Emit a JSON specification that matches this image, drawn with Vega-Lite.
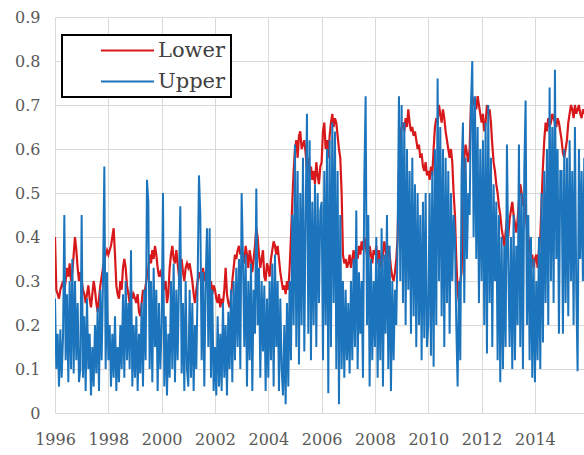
{
  "$schema": "https://vega.github.io/schema/vega-lite/v6.json",
  "width": 529,
  "height": 396,
  "autosize": "none",
  "padding": {"left": 55, "top": 17, "right": 0, "bottom": 42},
  "background": "white",
  "config": {
    "view": {"stroke": null},
    "font": "DejaVu Serif",
    "legend": {"strokeWidth": 2}
  },
  "data": {"values": [
{"t":1996.00,"l":0.40,"u":0.26},{"t":1996.05,"l":0.28,"u":0.10},{"t":1996.10,"l":0.27,"u":0.18},{"t":1996.15,"l":0.26,"u":0.06},{"t":1996.20,"l":0.28,"u":0.19},
{"t":1996.25,"l":0.29,"u":0.08},{"t":1996.30,"l":0.30,"u":0.17},{"t":1996.35,"l":0.28,"u":0.45},{"t":1996.40,"l":0.30,"u":0.12},{"t":1996.45,"l":0.33,"u":0.27},
{"t":1996.50,"l":0.31,"u":0.07},{"t":1996.55,"l":0.34,"u":0.30},{"t":1996.60,"l":0.30,"u":0.10},{"t":1996.65,"l":0.32,"u":0.35},{"t":1996.70,"l":0.36,"u":0.09},
{"t":1996.75,"l":0.40,"u":0.30},{"t":1996.80,"l":0.37,"u":0.12},{"t":1996.85,"l":0.33,"u":0.25},{"t":1996.90,"l":0.30,"u":0.07},{"t":1996.95,"l":0.32,"u":0.10},
{"t":1997.00,"l":0.30,"u":0.45},{"t":1997.05,"l":0.28,"u":0.08},{"t":1997.10,"l":0.27,"u":0.22},{"t":1997.15,"l":0.25,"u":0.05},{"t":1997.20,"l":0.27,"u":0.26},
{"t":1997.25,"l":0.29,"u":0.10},{"t":1997.30,"l":0.26,"u":0.18},{"t":1997.35,"l":0.24,"u":0.04},{"t":1997.40,"l":0.27,"u":0.15},{"t":1997.45,"l":0.30,"u":0.06},
{"t":1997.50,"l":0.28,"u":0.20},{"t":1997.55,"l":0.25,"u":0.09},{"t":1997.60,"l":0.23,"u":0.24},{"t":1997.65,"l":0.26,"u":0.05},{"t":1997.70,"l":0.29,"u":0.28},
{"t":1997.75,"l":0.31,"u":0.12},{"t":1997.80,"l":0.33,"u":0.30},{"t":1997.85,"l":0.35,"u":0.56},{"t":1997.90,"l":0.36,"u":0.10},{"t":1997.95,"l":0.37,"u":0.32},
{"t":1998.00,"l":0.36,"u":0.12},{"t":1998.05,"l":0.37,"u":0.20},{"t":1998.10,"l":0.38,"u":0.06},{"t":1998.15,"l":0.40,"u":0.18},{"t":1998.20,"l":0.42,"u":0.08},
{"t":1998.25,"l":0.36,"u":0.22},{"t":1998.30,"l":0.29,"u":0.05},{"t":1998.35,"l":0.27,"u":0.15},{"t":1998.40,"l":0.26,"u":0.07},{"t":1998.45,"l":0.30,"u":0.20},
{"t":1998.50,"l":0.28,"u":0.10},{"t":1998.55,"l":0.33,"u":0.27},{"t":1998.60,"l":0.35,"u":0.08},{"t":1998.65,"l":0.33,"u":0.30},{"t":1998.70,"l":0.29,"u":0.12},
{"t":1998.75,"l":0.27,"u":0.25},{"t":1998.80,"l":0.25,"u":0.10},{"t":1998.85,"l":0.28,"u":0.37},{"t":1998.90,"l":0.26,"u":0.06},{"t":1998.95,"l":0.27,"u":0.20},
{"t":1999.00,"l":0.26,"u":0.08},{"t":1999.05,"l":0.25,"u":0.22},{"t":1999.10,"l":0.27,"u":0.05},{"t":1999.15,"l":0.23,"u":0.18},{"t":1999.20,"l":0.22,"u":0.09},
{"t":1999.25,"l":0.25,"u":0.25},{"t":1999.30,"l":0.28,"u":0.06},{"t":1999.35,"l":0.27,"u":0.28},{"t":1999.40,"l":0.29,"u":0.12},{"t":1999.45,"l":0.31,"u":0.53},
{"t":1999.50,"l":0.33,"u":0.48},{"t":1999.55,"l":0.36,"u":0.10},{"t":1999.60,"l":0.34,"u":0.30},{"t":1999.65,"l":0.37,"u":0.07},{"t":1999.70,"l":0.35,"u":0.33},
{"t":1999.75,"l":0.38,"u":0.15},{"t":1999.80,"l":0.36,"u":0.28},{"t":1999.85,"l":0.33,"u":0.05},{"t":1999.90,"l":0.31,"u":0.25},{"t":1999.95,"l":0.32,"u":0.10},
{"t":2000.00,"l":0.31,"u":0.20},{"t":2000.05,"l":0.30,"u":0.50},{"t":2000.10,"l":0.28,"u":0.06},{"t":2000.15,"l":0.30,"u":0.22},{"t":2000.20,"l":0.25,"u":0.04},
{"t":2000.25,"l":0.27,"u":0.18},{"t":2000.30,"l":0.33,"u":0.08},{"t":2000.35,"l":0.36,"u":0.30},{"t":2000.40,"l":0.38,"u":0.10},{"t":2000.45,"l":0.35,"u":0.34},
{"t":2000.50,"l":0.34,"u":0.07},{"t":2000.55,"l":0.37,"u":0.28},{"t":2000.60,"l":0.34,"u":0.12},{"t":2000.65,"l":0.31,"u":0.30},{"t":2000.70,"l":0.33,"u":0.47},
{"t":2000.75,"l":0.35,"u":0.09},{"t":2000.80,"l":0.32,"u":0.25},{"t":2000.85,"l":0.30,"u":0.05},{"t":2000.90,"l":0.33,"u":0.30},{"t":2000.95,"l":0.34,"u":0.10},
{"t":2001.00,"l":0.33,"u":0.06},{"t":2001.05,"l":0.34,"u":0.28},{"t":2001.10,"l":0.32,"u":0.08},{"t":2001.15,"l":0.30,"u":0.25},{"t":2001.20,"l":0.27,"u":0.05},
{"t":2001.25,"l":0.25,"u":0.20},{"t":2001.30,"l":0.28,"u":0.10},{"t":2001.35,"l":0.30,"u":0.30},{"t":2001.40,"l":0.32,"u":0.54},{"t":2001.45,"l":0.31,"u":0.45},
{"t":2001.50,"l":0.29,"u":0.12},{"t":2001.55,"l":0.33,"u":0.32},{"t":2001.60,"l":0.30,"u":0.06},{"t":2001.65,"l":0.32,"u":0.30},{"t":2001.70,"l":0.29,"u":0.42},
{"t":2001.75,"l":0.31,"u":0.15},{"t":2001.80,"l":0.28,"u":0.42},{"t":2001.85,"l":0.30,"u":0.08},{"t":2001.90,"l":0.27,"u":0.28},{"t":2001.95,"l":0.29,"u":0.05},
{"t":2002.00,"l":0.28,"u":0.15},{"t":2002.05,"l":0.26,"u":0.04},{"t":2002.10,"l":0.25,"u":0.22},{"t":2002.15,"l":0.27,"u":0.06},{"t":2002.20,"l":0.24,"u":0.18},
{"t":2002.25,"l":0.26,"u":0.05},{"t":2002.30,"l":0.25,"u":0.25},{"t":2002.35,"l":0.28,"u":0.08},{"t":2002.40,"l":0.33,"u":0.20},{"t":2002.45,"l":0.27,"u":0.04},
{"t":2002.50,"l":0.25,"u":0.23},{"t":2002.55,"l":0.24,"u":0.10},{"t":2002.60,"l":0.26,"u":0.28},{"t":2002.65,"l":0.30,"u":0.07},{"t":2002.70,"l":0.33,"u":0.30},
{"t":2002.75,"l":0.36,"u":0.12},{"t":2002.80,"l":0.35,"u":0.33},{"t":2002.85,"l":0.37,"u":0.15},{"t":2002.90,"l":0.38,"u":0.35},{"t":2002.95,"l":0.36,"u":0.10},
{"t":2003.00,"l":0.37,"u":0.50},{"t":2003.05,"l":0.36,"u":0.35},{"t":2003.10,"l":0.34,"u":0.15},{"t":2003.15,"l":0.38,"u":0.36},{"t":2003.20,"l":0.36,"u":0.06},
{"t":2003.25,"l":0.33,"u":0.30},{"t":2003.30,"l":0.37,"u":0.12},{"t":2003.35,"l":0.35,"u":0.34},{"t":2003.40,"l":0.32,"u":0.05},{"t":2003.45,"l":0.35,"u":0.28},
{"t":2003.50,"l":0.38,"u":0.18},{"t":2003.55,"l":0.42,"u":0.51},{"t":2003.60,"l":0.40,"u":0.20},{"t":2003.65,"l":0.36,"u":0.33},{"t":2003.70,"l":0.33,"u":0.08},
{"t":2003.75,"l":0.35,"u":0.30},{"t":2003.80,"l":0.37,"u":0.14},{"t":2003.85,"l":0.31,"u":0.29},{"t":2003.90,"l":0.30,"u":0.05},{"t":2003.95,"l":0.34,"u":0.26},
{"t":2004.00,"l":0.33,"u":0.08},{"t":2004.05,"l":0.31,"u":0.30},{"t":2004.10,"l":0.35,"u":0.12},{"t":2004.15,"l":0.37,"u":0.34},{"t":2004.20,"l":0.39,"u":0.06},
{"t":2004.25,"l":0.38,"u":0.36},{"t":2004.30,"l":0.36,"u":0.15},{"t":2004.35,"l":0.38,"u":0.30},{"t":2004.40,"l":0.35,"u":0.05},{"t":2004.45,"l":0.32,"u":0.26},
{"t":2004.50,"l":0.30,"u":0.10},{"t":2004.55,"l":0.28,"u":0.04},{"t":2004.60,"l":0.29,"u":0.20},{"t":2004.65,"l":0.27,"u":0.02},{"t":2004.70,"l":0.30,"u":0.25},
{"t":2004.75,"l":0.28,"u":0.06},{"t":2004.80,"l":0.33,"u":0.30},{"t":2004.85,"l":0.40,"u":0.12},{"t":2004.90,"l":0.48,"u":0.45},{"t":2004.95,"l":0.55,"u":0.20},
{"t":2005.00,"l":0.60,"u":0.61},{"t":2005.05,"l":0.62,"u":0.15},{"t":2005.10,"l":0.58,"u":0.55},{"t":2005.15,"l":0.63,"u":0.11},{"t":2005.20,"l":0.64,"u":0.50},
{"t":2005.25,"l":0.60,"u":0.20},{"t":2005.30,"l":0.61,"u":0.58},{"t":2005.35,"l":0.62,"u":0.14},{"t":2005.40,"l":0.59,"u":0.45},{"t":2005.45,"l":0.55,"u":0.68},
{"t":2005.50,"l":0.58,"u":0.18},{"t":2005.55,"l":0.54,"u":0.62},{"t":2005.60,"l":0.56,"u":0.12},{"t":2005.65,"l":0.53,"u":0.48},{"t":2005.70,"l":0.55,"u":0.20},
{"t":2005.75,"l":0.52,"u":0.52},{"t":2005.80,"l":0.57,"u":0.15},{"t":2005.85,"l":0.54,"u":0.50},{"t":2005.90,"l":0.52,"u":0.25},{"t":2005.95,"l":0.56,"u":0.46},
{"t":2006.00,"l":0.57,"u":0.48},{"t":2006.05,"l":0.64,"u":0.12},{"t":2006.10,"l":0.66,"u":0.55},{"t":2006.15,"l":0.60,"u":0.20},{"t":2006.20,"l":0.62,"u":0.60},
{"t":2006.25,"l":0.58,"u":0.045},{"t":2006.30,"l":0.63,"u":0.62},{"t":2006.35,"l":0.66,"u":0.15},{"t":2006.40,"l":0.68,"u":0.66},{"t":2006.45,"l":0.65,"u":0.25},
{"t":2006.50,"l":0.67,"u":0.64},{"t":2006.55,"l":0.66,"u":0.10},{"t":2006.60,"l":0.63,"u":0.55},{"t":2006.65,"l":0.60,"u":0.02},{"t":2006.70,"l":0.58,"u":0.45},
{"t":2006.75,"l":0.50,"u":0.10},{"t":2006.80,"l":0.36,"u":0.30},{"t":2006.85,"l":0.34,"u":0.08},{"t":2006.90,"l":0.35,"u":0.28},{"t":2006.95,"l":0.33,"u":0.12},
{"t":2007.00,"l":0.34,"u":0.25},{"t":2007.05,"l":0.36,"u":0.09},{"t":2007.10,"l":0.33,"u":0.30},{"t":2007.15,"l":0.35,"u":0.12},{"t":2007.20,"l":0.37,"u":0.35},
{"t":2007.25,"l":0.34,"u":0.15},{"t":2007.30,"l":0.36,"u":0.46},{"t":2007.35,"l":0.35,"u":0.10},{"t":2007.40,"l":0.38,"u":0.32},{"t":2007.45,"l":0.36,"u":0.18},
{"t":2007.50,"l":0.39,"u":0.30},{"t":2007.55,"l":0.37,"u":0.08},{"t":2007.60,"l":0.40,"u":0.53},{"t":2007.65,"l":0.38,"u":0.72},{"t":2007.70,"l":0.36,"u":0.20},
{"t":2007.75,"l":0.35,"u":0.45},{"t":2007.80,"l":0.38,"u":0.06},{"t":2007.85,"l":0.36,"u":0.35},{"t":2007.90,"l":0.34,"u":0.12},{"t":2007.95,"l":0.37,"u":0.30},
{"t":2008.00,"l":0.36,"u":0.15},{"t":2008.05,"l":0.38,"u":0.40},{"t":2008.10,"l":0.34,"u":0.08},{"t":2008.15,"l":0.37,"u":0.35},{"t":2008.20,"l":0.35,"u":0.12},
{"t":2008.25,"l":0.33,"u":0.42},{"t":2008.30,"l":0.36,"u":0.06},{"t":2008.35,"l":0.39,"u":0.36},{"t":2008.40,"l":0.37,"u":0.18},{"t":2008.45,"l":0.34,"u":0.45},
{"t":2008.50,"l":0.38,"u":0.10},{"t":2008.55,"l":0.36,"u":0.38},{"t":2008.60,"l":0.33,"u":0.05},{"t":2008.65,"l":0.31,"u":0.30},{"t":2008.70,"l":0.30,"u":0.12},
{"t":2008.75,"l":0.32,"u":0.28},{"t":2008.80,"l":0.35,"u":0.20},{"t":2008.85,"l":0.40,"u":0.40},{"t":2008.90,"l":0.55,"u":0.72},{"t":2008.95,"l":0.64,"u":0.30},
{"t":2009.00,"l":0.65,"u":0.70},{"t":2009.05,"l":0.66,"u":0.25},{"t":2009.10,"l":0.64,"u":0.66},{"t":2009.15,"l":0.67,"u":0.20},{"t":2009.20,"l":0.65,"u":0.60},
{"t":2009.25,"l":0.69,"u":0.28},{"t":2009.30,"l":0.66,"u":0.55},{"t":2009.35,"l":0.64,"u":0.18},{"t":2009.40,"l":0.65,"u":0.58},{"t":2009.45,"l":0.63,"u":0.22},
{"t":2009.50,"l":0.64,"u":0.52},{"t":2009.55,"l":0.62,"u":0.15},{"t":2009.60,"l":0.60,"u":0.50},{"t":2009.65,"l":0.61,"u":0.20},{"t":2009.70,"l":0.58,"u":0.45},
{"t":2009.75,"l":0.59,"u":0.12},{"t":2009.80,"l":0.56,"u":0.48},{"t":2009.85,"l":0.55,"u":0.17},{"t":2009.90,"l":0.57,"u":0.50},{"t":2009.95,"l":0.54,"u":0.15},
{"t":2010.00,"l":0.55,"u":0.20},{"t":2010.05,"l":0.53,"u":0.50},{"t":2010.10,"l":0.56,"u":0.13},{"t":2010.15,"l":0.54,"u":0.55},{"t":2010.20,"l":0.60,"u":0.105},
{"t":2010.25,"l":0.65,"u":0.60},{"t":2010.30,"l":0.67,"u":0.20},{"t":2010.35,"l":0.66,"u":0.76},{"t":2010.40,"l":0.70,"u":0.30},{"t":2010.45,"l":0.68,"u":0.65},
{"t":2010.50,"l":0.66,"u":0.22},{"t":2010.55,"l":0.69,"u":0.60},{"t":2010.60,"l":0.67,"u":0.15},{"t":2010.65,"l":0.64,"u":0.58},{"t":2010.70,"l":0.62,"u":0.25},
{"t":2010.75,"l":0.60,"u":0.55},{"t":2010.80,"l":0.58,"u":0.18},{"t":2010.85,"l":0.60,"u":0.50},{"t":2010.90,"l":0.57,"u":0.30},{"t":2010.95,"l":0.50,"u":0.45},
{"t":2011.00,"l":0.45,"u":0.40},{"t":2011.05,"l":0.35,"u":0.20},{"t":2011.10,"l":0.28,"u":0.06},{"t":2011.15,"l":0.25,"u":0.30},{"t":2011.20,"l":0.30,"u":0.12},
{"t":2011.25,"l":0.32,"u":0.55},{"t":2011.30,"l":0.45,"u":0.66},{"t":2011.35,"l":0.58,"u":0.25},{"t":2011.40,"l":0.61,"u":0.58},{"t":2011.45,"l":0.59,"u":0.35},
{"t":2011.50,"l":0.57,"u":0.50},{"t":2011.55,"l":0.60,"u":0.45},{"t":2011.60,"l":0.70,"u":0.70},{"t":2011.65,"l":0.72,"u":0.80},{"t":2011.70,"l":0.70,"u":0.40},
{"t":2011.75,"l":0.71,"u":0.72},{"t":2011.80,"l":0.69,"u":0.35},{"t":2011.85,"l":0.72,"u":0.65},{"t":2011.90,"l":0.70,"u":0.25},{"t":2011.95,"l":0.68,"u":0.60},
{"t":2012.00,"l":0.66,"u":0.30},{"t":2012.05,"l":0.68,"u":0.62},{"t":2012.10,"l":0.64,"u":0.20},{"t":2012.15,"l":0.66,"u":0.66},{"t":2012.20,"l":0.70,"u":0.135},
{"t":2012.25,"l":0.68,"u":0.70},{"t":2012.30,"l":0.69,"u":0.25},{"t":2012.35,"l":0.66,"u":0.58},{"t":2012.40,"l":0.61,"u":0.15},{"t":2012.45,"l":0.57,"u":0.52},
{"t":2012.50,"l":0.55,"u":0.30},{"t":2012.55,"l":0.52,"u":0.48},{"t":2012.60,"l":0.50,"u":0.12},{"t":2012.65,"l":0.47,"u":0.45},{"t":2012.70,"l":0.45,"u":0.07},
{"t":2012.75,"l":0.42,"u":0.40},{"t":2012.80,"l":0.40,"u":0.10},{"t":2012.85,"l":0.38,"u":0.38},{"t":2012.90,"l":0.41,"u":0.15},{"t":2012.95,"l":0.44,"u":0.61},
{"t":2013.00,"l":0.40,"u":0.35},{"t":2013.05,"l":0.44,"u":0.15},{"t":2013.10,"l":0.46,"u":0.40},{"t":2013.15,"l":0.48,"u":0.10},{"t":2013.20,"l":0.45,"u":0.45},
{"t":2013.25,"l":0.43,"u":0.12},{"t":2013.30,"l":0.41,"u":0.38},{"t":2013.35,"l":0.44,"u":0.20},{"t":2013.40,"l":0.48,"u":0.61},{"t":2013.45,"l":0.52,"u":0.15},
{"t":2013.50,"l":0.50,"u":0.50},{"t":2013.55,"l":0.47,"u":0.10},{"t":2013.60,"l":0.49,"u":0.55},{"t":2013.65,"l":0.45,"u":0.71},{"t":2013.70,"l":0.42,"u":0.20},
{"t":2013.75,"l":0.40,"u":0.45},{"t":2013.80,"l":0.38,"u":0.12},{"t":2013.85,"l":0.35,"u":0.40},{"t":2013.90,"l":0.36,"u":0.08},{"t":2013.95,"l":0.33,"u":0.35},
{"t":2014.00,"l":0.35,"u":0.07},{"t":2014.05,"l":0.36,"u":0.30},{"t":2014.10,"l":0.33,"u":0.12},{"t":2014.15,"l":0.37,"u":0.40},{"t":2014.20,"l":0.40,"u":0.10},
{"t":2014.25,"l":0.48,"u":0.50},{"t":2014.30,"l":0.56,"u":0.16},{"t":2014.35,"l":0.62,"u":0.55},{"t":2014.40,"l":0.66,"u":0.25},{"t":2014.45,"l":0.64,"u":0.60},
{"t":2014.50,"l":0.67,"u":0.20},{"t":2014.55,"l":0.65,"u":0.74},{"t":2014.60,"l":0.66,"u":0.30},{"t":2014.65,"l":0.68,"u":0.65},{"t":2014.70,"l":0.67,"u":0.25},
{"t":2014.75,"l":0.66,"u":0.78},{"t":2014.80,"l":0.65,"u":0.35},{"t":2014.85,"l":0.67,"u":0.60},{"t":2014.90,"l":0.66,"u":0.18},{"t":2014.95,"l":0.64,"u":0.55},
{"t":2015.00,"l":0.62,"u":0.55},{"t":2015.05,"l":0.59,"u":0.18},{"t":2015.10,"l":0.58,"u":0.60},{"t":2015.15,"l":0.60,"u":0.25},{"t":2015.20,"l":0.62,"u":0.58},
{"t":2015.25,"l":0.66,"u":0.22},{"t":2015.30,"l":0.68,"u":0.62},{"t":2015.35,"l":0.70,"u":0.30},{"t":2015.40,"l":0.69,"u":0.55},{"t":2015.45,"l":0.67,"u":0.20},
{"t":2015.50,"l":0.70,"u":0.65},{"t":2015.55,"l":0.68,"u":0.28},{"t":2015.60,"l":0.69,"u":0.095},{"t":2015.65,"l":0.70,"u":0.60},{"t":2015.70,"l":0.68,"u":0.35},
{"t":2015.75,"l":0.67,"u":0.55},{"t":2015.80,"l":0.69,"u":0.30},{"t":2015.85,"l":0.68,"u":0.58}
  ]},
  "encoding": {
    "x": {
      "field": "t",
      "type": "quantitative",
      "scale": {"domain": [1996, 2015.84], "nice": false, "zero": false},
      "axis": {
        "title": null,
        "values": [1996, 1998, 2000, 2002, 2004, 2006, 2008, 2010, 2012, 2014],
        "format": "d",
        "grid": true,
        "gridColor": "#d9d9d9",
        "gridWidth": 1,
        "domain": false,
        "ticks": false,
        "labelFlush": false,
        "labelOverlap": false,
        "labelFont": "DejaVu Serif",
        "labelFontSize": 16,
        "labelColor": "#595959",
        "labelPadding": 18
      }
    }
  },
  "layer": [
    {
      "mark": {"type": "line", "strokeWidth": 2.2, "clip": true},
      "encoding": {
        "y": {
          "field": "l",
          "type": "quantitative",
          "scale": {"domain": [0, 0.9], "nice": false},
          "axis": {
            "title": null,
            "values": [0, 0.1, 0.2, 0.3, 0.4, 0.5, 0.6, 0.7, 0.8, 0.9],
            "format": "~g",
            "grid": true,
            "gridColor": "#d9d9d9",
            "gridWidth": 1,
            "domain": false,
            "ticks": false,
            "labelFont": "DejaVu Serif",
            "labelFontSize": 16,
            "labelColor": "#595959",
            "labelPadding": 15
          }
        },
        "color": {
          "datum": "Lower",
          "type": "nominal",
          "scale": {"domain": ["Lower", "Upper"], "range": ["#D7191C", "#1C75BC"]},
          "legend": {
            "title": null,
            "orient": "none",
            "legendX": 7,
            "legendY": 18,
            "fillColor": "white",
            "strokeColor": "black",
            "padding": 5,
            "symbolType": "M-2.95,0H2.95",
            "symbolSize": 324,
            "symbolStrokeWidth": 2,
            "symbolOffset": 50,
            "labelFont": "DejaVu Serif",
            "labelFontSize": 21,
            "labelColor": "#404040",
            "labelOffset": 20,
            "rowPadding": 9
          }
        }
      }
    },
    {
      "mark": {"type": "line", "strokeWidth": 2, "clip": true},
      "encoding": {
        "y": {"field": "u", "type": "quantitative"},
        "color": {"datum": "Upper", "type": "nominal"}
      }
    }
  ]
}
